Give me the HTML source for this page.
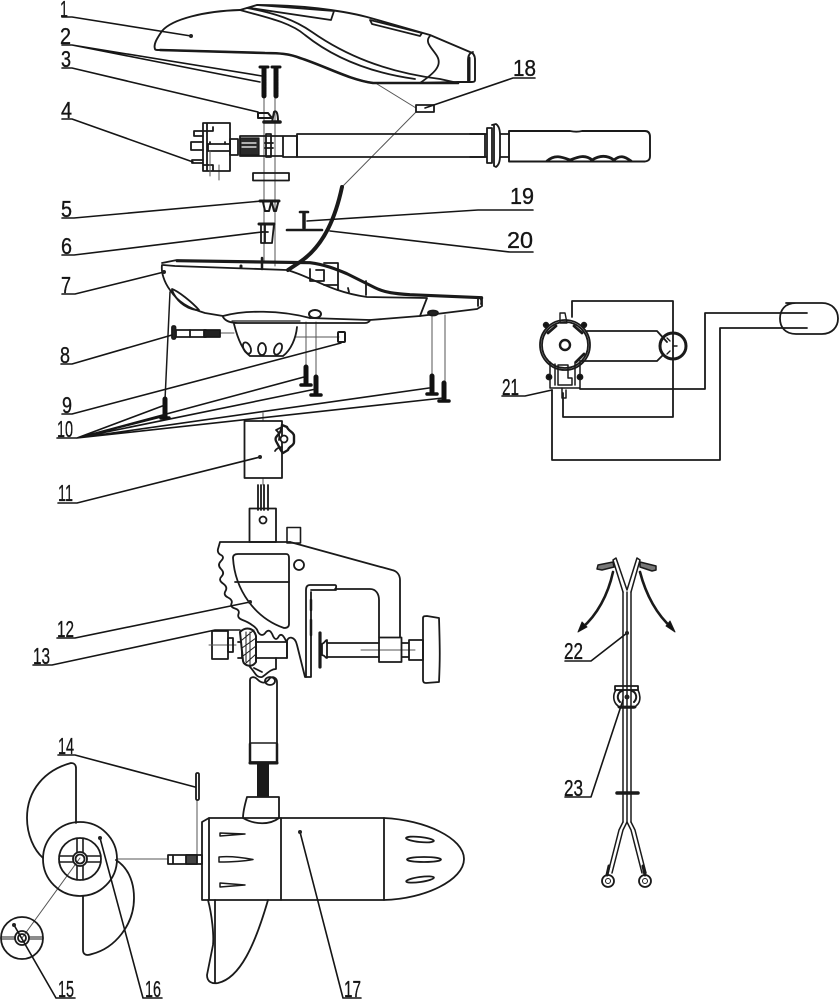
<!DOCTYPE html>
<html><head><meta charset="utf-8"><style>
html,body{margin:0;padding:0;background:#fff;width:840px;height:1000px;overflow:hidden}
svg{display:block}
text{font-family:"Liberation Sans",sans-serif;font-size:23.5px;fill:#151515;stroke:#151515;stroke-width:.35}
</style></head><body>
<svg width="840" height="1000" viewBox="0 0 840 1000" xmlns="http://www.w3.org/2000/svg">
<rect width="840" height="1000" fill="#fff"/>
<g fill="none" stroke="#1a1a1a" stroke-width="1.8" stroke-linejoin="round" stroke-linecap="round">

<!-- thin connector lines -->
<g stroke="#555" stroke-width="1">
<path d="M264 97V262M275 97V266"/>
<path d="M377 84L416 108M416 112L343 186"/>
<path d="M219 333H234M296 337H339"/>
<path d="M306 322V366M316 322V376M432 315V375M445 315V382"/>
<path d="M263 413V421M263 478V485M117 859H167M197 800V855M80 858L22 938"/>
<path d="M219 165V180"/>
</g>
<path d="M170 292L165 400" stroke-width="1.500"/>

<!-- 1 head -->
<path d="M155 49C153 44 158 37 162 31C172 19 205 11 240 10L257 5C300 5 340 10 367 17L430 35L470 52C474 53 475 56 475 60V80C475 82 473 82 471 82H458L420 83H373C350 80 325 66 300 58C290 54 280 53 265 53L160 50C157 50 155 50 155 49Z" stroke-width="1.900"/>
<path d="M458 83H373C350 80 325 66 300 58C290 54 280 53 265 53L160 50" stroke-width="2.600"/>
<path d="M240 10C265 17 290 22 305 35C330 55 365 72 415 79"/>
<path d="M247 8C275 13 295 20 312 32C345 55 385 72 440 79L458 83"/>
<path d="M257 5L334 11L331 20L250 8"/>
<path d="M370 20L422 33L420 36L372 24Z"/>
<path d="M430 36C424 42 432 48 437 56C443 66 433 74 420 83"/>
<path d="M473 52C469 53 468 56 468 60V81" />
<path d="M469 58V80" stroke-width="3"/>

<!-- 18 clip -->
<rect x="416" y="105" width="18" height="7"/>

<!-- 2 screws -->
<g stroke="#111">
<path d="M260 67H268M272 67H280" stroke-width="3"/>
<path d="M264 68V96M276 68V96" stroke-width="5" stroke-dasharray="2.200 .5"/>
</g>
<!-- 3 -->
<path d="M258 113H268L272 118H258ZM272 122L274 112C276 110 278 112 278 122Z" stroke-width="2"/>
<path d="M264 122H280" stroke-width="3.600"/>

<!-- 4 switch body -->
<path d="M203 123H230V171H203ZM207 123V171M203 131H213V127M203 165H213V171M208 144H230V151H208Z"/>
<path d="M203 131H194V136H203M203 142H191V150H203M203 160H192V163H203M210 144V142M225 144V142" />
<path d="M210 151V176" stroke="#555" stroke-width="1"/>
<path d="M230 139H238V155H230Z"/>
<rect x="240" y="138" width="19" height="17" fill="#2a2a2a" stroke-width="1.200"/>
<path d="M242 143H256M242 147H256" stroke="#fff" stroke-width="1.200"/>
<path d="M240 136H283V156H240ZM283 136H297V157H283Z"/>
<rect x="266" y="134" width="5" height="23"/>
<path d="M265 143H273M265 148H273"/>
<path d="M297 134H485V157H297Z" stroke-width="1.800"/>
<path d="M487 128H492V163H487ZM492 125L496 124C499 126 500 130 500 135V156C500 161 499 165 496 167L494 166V125M487 134H470M487 157H470M500 134H509M500 157H509" />
<path d="M509 131H570C575 132 578 132 582 131H645C649 131 650 134 650 137V156C650 160 648 161 645 161.500H509Z" stroke-width="1.900"/>
<path d="M547 161C555 154 562 157 570 160C578 157 585 154 592 160C600 155 607 155 614 160C620 155 624 156 631 161" stroke-width="2.800"/>

<!-- washer -->
<rect x="253" y="173" width="36" height="7.500"/>
<!-- 5 -->
<path d="M260 201H279" stroke-width="3"/>
<path d="M263 202L265 211H269L271 203M272 203L274 211H276L278 203" stroke-width="2"/>
<!-- 6 -->
<path d="M259 224H274" stroke-width="3"/>
<path d="M261 224V243H272L274 224M265 224V243M261 232H268"/>
<!-- 19/20 -->
<path d="M304 213V228" stroke-width="3.500"/><path d="M300 212H308" stroke-width="2.600"/>
<path d="M287 230H322" stroke-width="2.600"/>
<!-- cable -->
<path d="M342 187C336 215 325 245 300 262L288 270" stroke-width="4"/>

<!-- 7 lower housing -->
<path d="M162 263L177 260L310 262C325 264 335 268 347 273L375 287C385 292 395 293 410 294L482 297V306L477 309L420 316L370 320L310 318" stroke-width="1.800"/>
<path d="M177 261L310 263C325 265 335 269 347 274L375 288C385 293 395 294 410 295L482 298" stroke-width="2.600"/>
<path d="M163 265L175 266L287 270C310 276 330 292 367 297L427 298L420 316"/>
<path d="M162 265C161 272 164 282 170 290C178 302 188 308 205 313L223 316C245 310 280 310 310 318"/>
<path d="M172 289C178 291 192 302 199 310L196 310C184 308 176 300 172 290Z"/>
<path d="M223 317C226 322 232 323 238 323H365C368 323 370 321 370 320"/>
<path d="M232 321L300 321" stroke-width="1.200"/>
<path d="M234 324C238 340 243 351 250 356H283C291 350 296 338 297 327"/>
<ellipse cx="247" cy="348" rx="3.500" ry="6" transform="rotate(-25 247 348)"/>
<ellipse cx="262" cy="349" rx="4" ry="6"/>
<ellipse cx="278" cy="349" rx="3.500" ry="6" transform="rotate(25 278 349)"/>
<path d="M316 270H324V281H310V269M324 263H338V285H324M338 270V290M366 281V295M348 288L349 292" />
<path d="M262 258V269" stroke-width="2.500"/><path d="M241 266V267" stroke-width="3"/>
<ellipse cx="315" cy="314" rx="6" ry="4" stroke-width="2"/>
<ellipse cx="433" cy="313" rx="5" ry="2.500" fill="#222"/>
<path d="M477 298C480 297 482 299 481 304M478 298V306"/>

<!-- 8 -->
<rect x="172" y="326" width="3.500" height="13" rx="1.500" fill="#222"/>
<path d="M176 330H190V337H176Z"/>
<path d="M190 330H206V337H190" fill="none"/>
<rect x="204" y="330" width="16" height="7" fill="#222"/>
<!-- 9 -->
<rect x="338" y="332" width="7" height="10" rx="1" stroke-width="2"/>

<!-- screws 10 -->
<g stroke="#111">
<path d="M165 399V418M306 367V383M316 377V393M432 376V392M444 383V399" stroke-width="5"/>
<path d="M161 418H169M301 385H311M311 395H321M427 394H437M439 401H449" stroke-width="3.500"/>
</g>

<!-- 11 -->
<rect x="244.500" y="421" width="37.500" height="57" stroke-width="1.800"/>
<path d="M282 427L276 430C279 432 280 436 279 440M282 447C279 447 276 449 275 451"/>
<path d="M282 425L287 427C288 431 294 432 294 436V442C294 446 289 446 288 450L283 453C280 450 279 446 277 443C275 440 275 438 277 436C280 433 282 430 282 425Z" stroke-width="2.400"/>
<circle cx="284" cy="439" r="3.500" fill="#fff"/>
<path d="M258 485V510M261 485V510M264 485V510M268 485V510"/>

<!-- 12 bracket -->
<rect x="249.500" y="508.500" width="26.500" height="33.500" stroke-width="1.800"/>
<circle cx="263" cy="520" r="3.500"/>
<rect x="287" y="527.500" width="13.500" height="15.500" stroke-width="1.600"/>
<path d="M290 542L392 570C397 571 400 575 400 580V637"/>
<path d="M290 542H220L218 549Q217 553 221 555Q225 557 221 561Q217 565 221 569Q225 573 221.500 576.500Q218 580 223 583.500Q228 587 225.500 591Q223 595 228 597.500Q233 600 231.500 603.500Q230 607 235 608.500Q240 610 238.500 614Q237 618 242.500 620Q248 622 252 625Q257 628 258 632Q262 638 266 632Q270 628 273 636Q276 642 279 636Q282 632 286 641" stroke-width="1.800"/>
<path d="M233 558C233 555 235 554 238 554H286C288 554 289 555 289 558V624C289 627 287 628 284 628C255 618 235 590 233 558Z" stroke-width="1.800"/>
<path d="M235 582H289"/>
<circle cx="299" cy="565" r="5"/>
<!-- clamp -->
<path d="M306 677L306 590C306 587 307 585 310 585H335C337 585 336 589 335 589H370C376 589 379 594 379 600V637"/>
<path d="M311 592V677H305L297 645C295 636 288 636 287 641V658M311 590H336"/>
<path d="M311 600V610M311 620V635" stroke-width="2.500"/>
<path d="M320 633V667" stroke-width="3.200"/>
<path d="M322 644C326 642 325 640 327 640V658C325 658 326 656 322 655Z"/>
<path d="M327 643H379M327 657H379"/>
<path d="M361 650H415" stroke="#555" stroke-width="1"/>
<rect x="379" y="637.500" width="22.500" height="24.500"/>
<path d="M402 643H409M402 657H409M409 640H423V660H409Z"/>
<path d="M423 618C423 616 425 616 427 616L439 618C440 650 440 660 439 682L426 683C424 683 423 682 423 680Z"/>
<!-- knob -->
<path d="M212 631H228V659H212Z"/>
<path d="M209 645H236" stroke="#555" stroke-width="1"/>
<path d="M228 638H233V652H228ZM238 642H242V658H238"/>
<path d="M240 632C246 626 254 628 256 636V662C252 668 244 666 243 661Z" fill="#fff" stroke-width="2"/>
<path d="M246 632V662M250 632V665M242 640L254 630M242 648L256 638M243 656L256 646M245 664L256 654" stroke-width="1"/>
<path d="M257 642H287M257 658H287V642"/>
<path d="M250 667C255 672 256 678 262 677C266 675 270 669 276 669V658M254 668L262 672"/>
<path d="M250 680C250 677 254 676 257 679C262 684 266 684 270 678C273 676 277 678 277 682V762H250Z"/>
<ellipse cx="270" cy="681" rx="5" ry="4"/>
<path d="M250 743H277" stroke-width="1.600"/><path d="M250 763H277" stroke-width="3"/>
<path d="M250 744V763M277 744V763" stroke-width="2.500"/>
<rect x="257" y="764" width="12" height="33" fill="#1a1a1a" stroke="none"/>

<!-- 17 lower unit -->
<path d="M247 797H279V818M247 797C245 804 243 812 243 818C255 825 270 825 279 818"/>
<path d="M209 818H384C425 820 464 838 464 859C464 880 425 899 384 900H202V822L209 818Z"/>
<path d="M209 818V900M281 818V900M384 818V900"/>
<path d="M220 833L245 834L220 836ZM219 857C230 856 245 858 253 859.500C245 861 230 862 219 862ZM220 883L245 885L220 887Z" stroke-width="1.500"/>
<ellipse cx="420" cy="839.500" rx="14" ry="2.500" transform="rotate(6 420 839)"/>
<ellipse cx="424" cy="859.500" rx="17" ry="2.500"/>
<ellipse cx="420" cy="879.500" rx="14" ry="2.500" transform="rotate(-8 420 879)"/>
<path d="M208 900C212 915 214 935 213 945L207 975C207 982 212 984 218 983C240 978 255 945 268 900"/>
<path d="M215 900V983"/>
<path d="M168 855H202V864H168ZM173 855V864"/>
<rect x="186" y="855" width="11" height="9" fill="#444"/>
<rect x="196" y="773" width="3" height="27" rx="1.200"/>
<!-- prop -->
<circle cx="80" cy="859" r="37"/>
<circle cx="80" cy="859" r="21"/>
<path d="M77 838V852M83 838V852M77 866V880M83 866V880M59 856H73M59 862H73M87 856H101M87 862H101" stroke-width="1.600"/>
<circle cx="80" cy="859" r="7"/><circle cx="80" cy="859" r="4.500"/>
<path d="M76 823V768C76 765 74 763 71 763C45 770 27 790 27 818C27 835 34 850 43 858"/>
<path d="M83 896V950C83 955 87 956 92 954C115 948 134 925 134 898C134 880 127 867 116 860"/>
<circle cx="22" cy="938" r="21"/>
<circle cx="22" cy="938" r="7"/><circle cx="22" cy="938" r="4"/>
<path d="M1 937H15M1 939H15M29 937H43M29 939H43" stroke-width="1"/>

<!-- 21 wiring -->
<g stroke-width="1.800">
<path d="M572 317V301H673V417H563V393"/>
<circle cx="565" cy="345" r="23"/><circle cx="565" cy="345" r="25"/>
<circle cx="565" cy="345" r="5" stroke-width="2.400"/>
<path d="M560 313H565L567 323H560Z" stroke-width="1.400"/>
<path d="M587 331H657L667 342M580 361H657L663 355"/>
<circle cx="673" cy="346" r="13" stroke-width="3"/>
<path d="M670 341L667 338M670 351L667 354M677 346H673" stroke-width="1.400"/>
<path d="M580 389H705V313H807M720 460V328H807M720 460H552V390"/>
<path d="M550 362V388H580V362M555 364V385M575 362V385" stroke-width="1.500"/>
<path d="M558 365H568V378H572V385H558Z" stroke-width="1.500"/>
<path d="M562 388V398H566V390" stroke-width="1.500"/>
<path d="M786 303H822C832 303 838 310 838 318.500C838 327 832 334 822 334H796C785 334 780 327 780 318.500C780 310 785 303 796 303Z"/>
</g>
<circle cx="546" cy="325" r="2.300" fill="#111"/><circle cx="584" cy="325" r="2.300" fill="#111"/>
<circle cx="549" cy="377" r="2.500" fill="#111"/><circle cx="580" cy="377" r="2.500" fill="#111"/>
<path d="M548 333L556 326M574 326L582 333M576 362L584 354" stroke-width="2.800"/>

<!-- 22/23 harness -->
<path d="M623 592V822M627 592V822M631 592V822" stroke-width="1.500"/>
<path d="M623 592L613 560L616 558L627 590L637 558L640 560L631 592" stroke-width="1.500"/>
<path d="M613 562L598 565L597 569L602 570L614 567ZM640 562L656 566L656 570L652 571L640 567Z" stroke-width="1.500" fill="#777"/>
<path d="M613 572C608 595 597 615 582 628M640 572C646 595 657 615 672 628" stroke-width="2.600"/>
<path d="M578 632L582 622L587 627ZM675 632L670 621L666 626Z" fill="#111" stroke-width="1"/>
<path d="M615 686H638V690H615Z"/>
<path d="M616 690C613 694 613 700 616 704L620 708H634L638 704C641 700 640 694 638 690Z" stroke-width="1.600"/>
<path d="M620 702C616 698 618 692 622 691M634 702C638 698 636 692 632 691" stroke-width="2"/>
<path d="M619 707H635" stroke-width="2.800"/>
<path d="M617 793H638" stroke-width="3.500"/>
<path d="M623 822L619 830L608 873M627 822L623 830L612 873M627 822L631 830L642 873M631 822L635 830L646 873" stroke-width="1.500"/>
<path d="M609 866L607 875M643 866L645 875" stroke-width="3"/>
<circle cx="608" cy="881" r="6" stroke-width="1.800"/><circle cx="608" cy="881" r="2.500" stroke-width="1"/>
<circle cx="645" cy="881" r="6" stroke-width="1.800"/><circle cx="645" cy="881" r="2.500" stroke-width="1"/>

<!-- leaders -->
<g stroke="#151515" stroke-width="1.600">
<path d="M62 17H72L191 36"/>
<path d="M62 45H72L262 76M72 45L260 82"/>
<path d="M62 68H72L258 112"/>
<path d="M62 119H72L193 162"/>
<path d="M62 218H74L262 201"/>
<path d="M62 255H74L262 232"/>
<path d="M62 294H75L164 272"/>
<path d="M61 364H72L172 335"/>
<path d="M62 414H72L341 343"/>
<path d="M57 438H77L165 405M77 438L165 416M77 438L304 377M77 438L316 389M77 438L429 388M77 438L443 398"/>
<path d="M58 503H77L260 457"/>
<path d="M57 638H75L250 602"/>
<path d="M33 665H52L215 630H240"/>
<path d="M58 755H75L195 787"/>
<path d="M56 998H75M56 998L14 925"/>
<path d="M143 998H162M143 998L100 838"/>
<path d="M343 998H361M343 998L300 832"/>
<path d="M535 78H513L425 108"/>
<path d="M533 210H478L307 221"/>
<path d="M533 252H510L330 231"/>
<path d="M502 396H525L552 390"/>
<path d="M565 661H591L627 633"/>
<path d="M565 797H591L623 700"/>
</g>
<g fill="#222" stroke="none">
<circle cx="191" cy="36" r="2"/><circle cx="260" cy="457" r="2"/><circle cx="164" cy="272" r="2"/><circle cx="250" cy="602" r="2"/><circle cx="100" cy="838" r="2"/><circle cx="300" cy="832" r="2"/><circle cx="14" cy="925" r="2"/><circle cx="627" cy="633" r="2"/><circle cx="627" cy="697" r="2.500"/>
</g>
</g>

<!-- labels -->
<text x="60" y="17" textLength="8" lengthAdjust="spacingAndGlyphs">1</text>
<text x="60" y="44" textLength="11" lengthAdjust="spacingAndGlyphs">2</text>
<text x="61" y="67" textLength="10" lengthAdjust="spacingAndGlyphs">3</text>
<text x="61" y="118" textLength="11" lengthAdjust="spacingAndGlyphs">4</text>
<text x="61" y="217" textLength="11" lengthAdjust="spacingAndGlyphs">5</text>
<text x="61" y="254" textLength="11" lengthAdjust="spacingAndGlyphs">6</text>
<text x="61" y="293" textLength="10" lengthAdjust="spacingAndGlyphs">7</text>
<text x="60" y="363" textLength="10" lengthAdjust="spacingAndGlyphs">8</text>
<text x="62" y="413" textLength="10" lengthAdjust="spacingAndGlyphs">9</text>
<text x="57" y="437" textLength="16" lengthAdjust="spacingAndGlyphs">10</text>
<text x="58" y="501" textLength="15" lengthAdjust="spacingAndGlyphs">11</text>
<text x="57" y="637" textLength="17" lengthAdjust="spacingAndGlyphs">12</text>
<text x="33" y="664" textLength="17" lengthAdjust="spacingAndGlyphs">13</text>
<text x="58" y="754" textLength="16" lengthAdjust="spacingAndGlyphs">14</text>
<text x="58" y="997" textLength="16" lengthAdjust="spacingAndGlyphs">15</text>
<text x="145" y="997" textLength="16" lengthAdjust="spacingAndGlyphs">16</text>
<text x="344" y="997" textLength="17" lengthAdjust="spacingAndGlyphs">17</text>
<text x="513" y="76" textLength="23" lengthAdjust="spacingAndGlyphs">18</text>
<text x="510" y="204" textLength="24" lengthAdjust="spacingAndGlyphs">19</text>
<text x="507" y="248" textLength="26" lengthAdjust="spacingAndGlyphs">20</text>
<text x="502" y="395" textLength="17" lengthAdjust="spacingAndGlyphs">21</text>
<text x="564" y="659" textLength="19" lengthAdjust="spacingAndGlyphs">22</text>
<text x="564" y="796" textLength="19" lengthAdjust="spacingAndGlyphs">23</text>
</svg>
</body></html>
